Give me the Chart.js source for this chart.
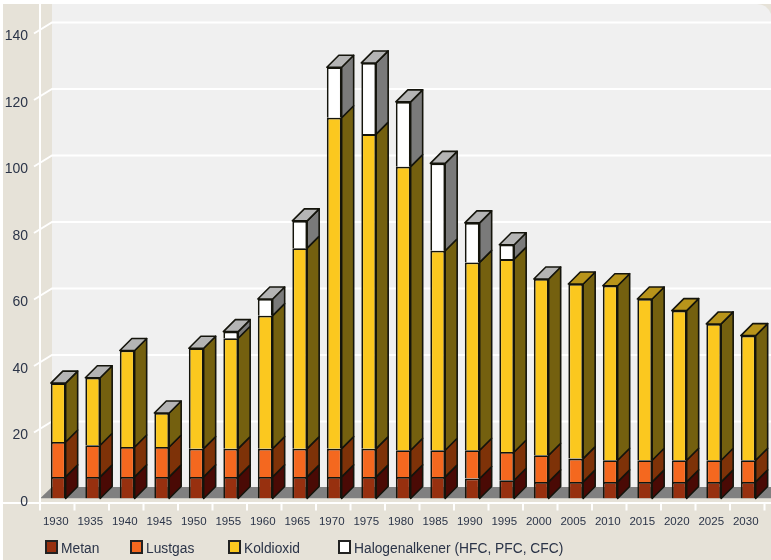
<!DOCTYPE html>
<html>
<head>
<meta charset="utf-8">
<title>Utsläpp</title>
<script src="https://cdn.jsdelivr.net/npm/chart.js@4"></script>
<style>
    html, body { margin: 0; padding: 0; background: #fff; }
    #wrap { position: relative; width: 771px; height: 560px; overflow: hidden; }
    .key { position: absolute; top: 540px; height: 14px; width: 13px; box-sizing: border-box; border: 2px solid #222; }
    .keyText { position: absolute; top: 538px; font: 15.5px "Liberation Sans", sans-serif; color: #2b3448; line-height: 19px; white-space: nowrap; transform: scaleX(0.89); transform-origin: left center; }
</style>
</head>
<body>
<div id="wrap">
    <canvas id="chart" width="771" height="560"></canvas>
</div>
<script>
const years = ['1930', '1935', '1940', '1945', '1950', '1955', '1960', '1965', '1970', '1975', '1980', '1985', '1990', '1995', '2000', '2005', '2010', '2015', '2020', '2025', '2030'];

const metan = [6.5, 6.5, 6.5, 6.5, 6.5, 6.5, 6.5, 6.5, 6.5, 6.5, 6.5, 6.5, 6, 5.5, 5, 5, 5, 5, 5, 5, 5];
const lustgas = [10.5, 9.5, 9, 9, 8.5, 8.5, 8.5, 8.5, 8.5, 8.5, 8, 8, 8.5, 8.5, 8, 7, 6.5, 6.5, 6.5, 6.5, 6.5];
const koldioxid = [17.7, 20.3, 29, 10.2, 30.2, 33.2, 40, 60.3, 99.5, 94.6, 85.3, 60, 56.5, 58, 53, 52.5, 52.5, 48.5, 45, 41, 37.5];
const halogen = [0, 0, 0, 0, 0, 2, 5, 8.2, 15.2, 21.4, 19.5, 26.3, 11.9, 4.3, 0, null, null, null, null, null, null];

const yTicks = [0, 20, 40, 60, 80, 100, 120, 140];

const names = ['Metan', 'Lustgas', 'Koldioxid', 'Halogenalkener (HFC, PFC, CFC)'];
const frontColors = ['#97300f', '#f4681f', '#fbc81f', '#ffffff'];
const sideColors = ['#4a0a05', '#7e3208', '#74600f', '#7a7a7a'];
const topColors = ['#6e1c08', '#b04a12', '#b8941a', '#b4b4b4'];
const keyLeft = [45, 130, 228, 338];

const depthX = 12;
const depthY = 12;

function poly(ctx, pts, fill) {
    ctx.beginPath();
    pts.forEach((p, i) => i ? ctx.lineTo(p[0], p[1]) : ctx.moveTo(p[0], p[1]));
    ctx.closePath();
    ctx.fillStyle = fill;
    ctx.fill();
    ctx.stroke();
}

// beige frame, back wall, floor and the white grid
const backdrop = {
    id: 'backdrop',
    beforeDraw(chart) {
        const ctx = chart.ctx;
        const xs = chart.scales.x;
        const ys = chart.scales.y;
        const wallLeft = 52;
        const right = chart.width;
        const zero = ys.getPixelForValue(0);

        ctx.save();
        ctx.fillStyle = '#fff';
        ctx.fillRect(0, 0, right, chart.height);
        ctx.fillStyle = '#e6e2d8';
        ctx.fillRect(3, 4, right - 3, chart.height - 4);

        ctx.fillStyle = '#f0f0f0';
        ctx.beginPath();
        ctx.moveTo(wallLeft, 4);
        ctx.lineTo(right - 14, 4);
        ctx.quadraticCurveTo(right - 4, 4, right, 14);
        ctx.lineTo(right, zero);
        ctx.lineTo(wallLeft, zero);
        ctx.closePath();
        ctx.fill();

        ctx.strokeStyle = '#fff';
        ctx.lineWidth = 2;
        yTicks.forEach(v => {
            if (v === 0) return;
            const y = ys.getPixelForValue(v);
            ctx.beginPath();
            ctx.moveTo(34, y + 0.5);
            ctx.lineTo(wallLeft, y - 10.5);
            ctx.lineTo(right, y - 10.5);
            ctx.stroke();
        });

        // floor
        ctx.fillStyle = '#808080';
        ctx.beginPath();
        ctx.moveTo(40, zero);
        ctx.lineTo(wallLeft, zero - 11.5);
        ctx.lineTo(right, zero - 11.5);
        ctx.lineTo(right, zero);
        ctx.closePath();
        ctx.fill();

        ctx.fillStyle = '#e6e2d8';
        ctx.fillRect(3, zero, right, 4);

        // axis lines and the small ticks under them
        ctx.beginPath();
        ctx.moveTo(40, 4);
        ctx.lineTo(40, zero + 12);
        ctx.moveTo(3, zero + 4.5);
        ctx.lineTo(right, zero + 4.5);
        const step = xs.getPixelForValue(1) - xs.getPixelForValue(0);
        years.forEach((year, i) => {
            const x = xs.getPixelForValue(i) + step / 2 - 1;
            ctx.moveTo(x, zero + 4.5);
            ctx.lineTo(x, zero + 12);
        });
        ctx.stroke();
        ctx.restore();
    }
};

// side and top faces of each stacked bar, taken from the bar elements
const depthFaces = {
    id: 'depthFaces',
    beforeDatasetsDraw(chart) {
        const ctx = chart.ctx;
        ctx.save();
        ctx.strokeStyle = '#14140c';
        ctx.lineWidth = 1.6;
        ctx.lineJoin = 'round';

        years.forEach((year, i) => {
            let topIndex = -1;
            chart.data.datasets.forEach((ds, d) => {
                if (ds.data[i] === null) return;
                topIndex = d;
                const bar = chart.getDatasetMeta(d).data[i];
                const r = bar.x + bar.width / 2;
                if (ds.data[i] > 0) {
                    poly(ctx, [[r, bar.y], [r + depthX, bar.y - depthY], [r + depthX, bar.base - depthY], [r, bar.base]], sideColors[d]);
                }
            });
            const bar = chart.getDatasetMeta(topIndex).data[i];
            const l = bar.x - bar.width / 2;
            const r = bar.x + bar.width / 2;
            poly(ctx, [[l, bar.y], [l + depthX, bar.y - depthY], [r + depthX, bar.y - depthY], [r, bar.y]], topColors[topIndex]);
        });
        ctx.restore();
    }
};

const series = [metan, lustgas, koldioxid, halogen];

new Chart(document.getElementById('chart'), {
    type: 'bar',
    data: {
        labels: years,
        datasets: series.map((values, d) => ({
            label: names[d],
            data: values,
            backgroundColor: frontColors[d],
            borderColor: '#14140c',
            borderWidth: 1.8,
            categoryPercentage: 1,
            barPercentage: 0.43
        }))
    },
    options: {
        responsive: false,
        animation: false,
        layout: { padding: { top: 33, right: 5.5, left: 0, bottom: 0 } },
        plugins: {
            legend: { display: false },
            tooltip: { enabled: false }
        },
        scales: {
            x: {
                stacked: true,
                afterFit(scale) {
                    scale.height = 61.5;
                    scale.paddingLeft = 0;
                    scale.paddingRight = 0;
                },
                grid: { display: false },
                border: { display: false },
                ticks: {
                    autoSkip: false,
                    maxRotation: 0,
                    padding: 8,
                    labelOffset: -2.5,
                    color: '#2b3448',
                    font: { family: '"Liberation Sans", sans-serif', size: 11.5 }
                }
            },
            y: {
                stacked: true,
                min: 0,
                max: 140,
                afterFit(scale) { scale.width = 41; },
                grid: { display: false },
                border: { display: false },
                ticks: {
                    stepSize: 20,
                    padding: 5,
                    labelOffset: 3.5,
                    color: '#2b3448',
                    font: { family: '"Liberation Sans", sans-serif', size: 14 }
                }
            }
        }
    },
    plugins: [backdrop, depthFaces]
});

// legend row below the chart
const wrap = document.getElementById('wrap');
names.forEach((name, d) => {
    const box = document.createElement('div');
    box.className = 'key';
    box.style.left = keyLeft[d] + 'px';
    box.style.background = frontColors[d];
    wrap.appendChild(box);

    const label = document.createElement('div');
    label.className = 'keyText';
    label.style.left = (keyLeft[d] + 16) + 'px';
    label.textContent = name;
    wrap.appendChild(label);
});
</script>
</body>
</html>
